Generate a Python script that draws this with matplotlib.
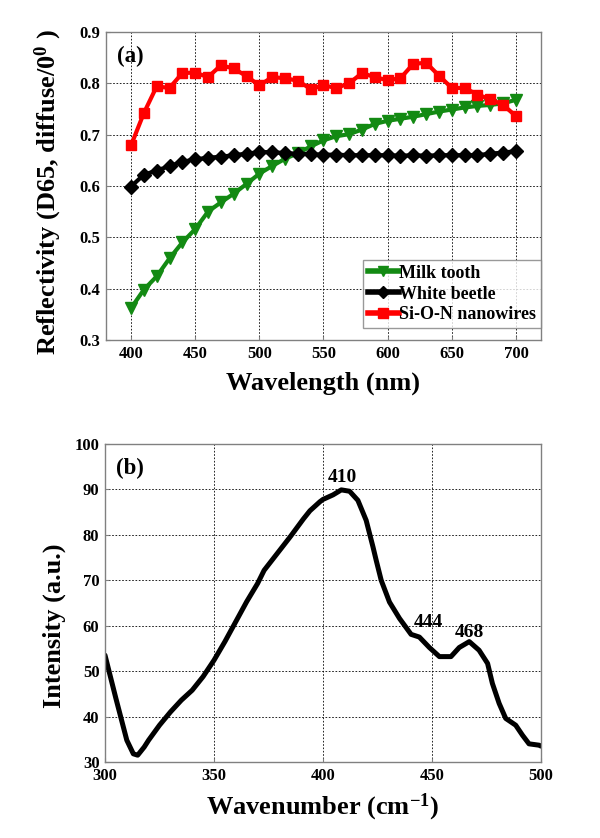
import matplotlib
matplotlib.use("Agg")
import matplotlib.pyplot as plt
import numpy as np

plt.rcParams['font.family'] = ['Liberation Serif', 'DejaVu Serif']
plt.rcParams['font.weight'] = 'bold'
plt.rcParams['mathtext.fontset'] = 'custom'
plt.rcParams['mathtext.rm'] = 'Liberation Serif'
plt.rcParams['mathtext.bf'] = 'Liberation Serif:bold'
plt.rcParams['mathtext.default'] = 'bf'

# ---- Panel (a) data ----
wavelength = list(range(400, 701, 10))
milk_tooth = [0.362, 0.398, 0.424, 0.459, 0.490, 0.516, 0.550, 0.568, 0.585, 0.604,
              0.624, 0.639, 0.653, 0.664, 0.677, 0.689, 0.697, 0.701, 0.710, 0.721,
              0.727, 0.731, 0.735, 0.740, 0.745, 0.749, 0.753, 0.756, 0.758, 0.761, 0.768]
white_beetle = [0.599, 0.622, 0.630, 0.639, 0.647, 0.652, 0.655, 0.657, 0.660, 0.663,
                0.666, 0.666, 0.664, 0.663, 0.662, 0.661, 0.661, 0.660, 0.660, 0.660,
                0.660, 0.659, 0.660, 0.659, 0.660, 0.660, 0.660, 0.660, 0.663, 0.665, 0.668]
sion_nanowires = [0.679, 0.742, 0.794, 0.791, 0.820, 0.821, 0.812, 0.835, 0.829, 0.814,
                  0.796, 0.812, 0.810, 0.805, 0.789, 0.796, 0.791, 0.800, 0.820, 0.812,
                  0.806, 0.810, 0.838, 0.840, 0.815, 0.791, 0.791, 0.778, 0.769, 0.758, 0.736]
series_labels = ["Milk tooth", "White beetle", "Si-O-N nanowires"]

# ---- Panel (b) data ----
wavenumber = [300, 305, 310, 313, 315, 318, 320, 325, 330, 335, 340, 345, 350, 355, 360,
              365, 370, 373, 379, 385, 391, 394, 398.6, 400, 404.6, 408.4, 412.2, 416,
              419.8, 422.9, 424.4, 426.7, 430.5, 435.1, 440.4, 444.2, 448.8, 453.4,
              458.7, 462.5, 467.1, 471.6, 475.5, 477.7, 480.8, 483.8, 488.4, 491.5,
              494.5, 499.1, 500]
intensity = [53.5, 44.0, 34.8, 31.8, 31.5, 33.3, 34.8, 38.1, 41.0, 43.6, 45.8, 48.8, 52.4,
             56.5, 60.9, 65.3, 69.3, 72.2, 75.9, 79.6, 83.5, 85.3, 87.3, 87.8, 88.8, 89.9,
             89.6, 87.6, 83.2, 77.4, 74.4, 70.0, 65.2, 61.6, 58.1, 57.5, 55.2, 53.2, 53.2,
             55.2, 56.5, 54.6, 51.7, 47.3, 42.9, 39.6, 38.1, 35.9, 34.0, 33.7, 33.5]
peak_labels = ["410", "444", "468"]
peak_label_x = [408.7, 448.4, 467.2]
peak_label_y = [91.6, 59.7, 57.5]

W, H = 600, 838
fig = plt.figure(figsize=(6, 8.38), dpi=100)

def ax_rect(l, t, r, b):
    return [l / W, 1 - b / H, (r - l) / W, (b - t) / H]

spine_col = '#808080'

def style_axes(ax):
    for s in ax.spines.values():
        s.set_color(spine_col)
        s.set_linewidth(1.0)
    ax.tick_params(direction='in', length=3, width=0.8, color=spine_col,
                   labelsize=12, pad=4, top=False, right=False)
    ax.grid(True, color='black', linestyle=(0, (2, 2)), linewidth=0.6)
    ax.set_axisbelow(True)
    for lab in ax.get_xticklabels() + ax.get_yticklabels():
        lab.set_fontweight('bold')

# Panel (a)
ax1 = fig.add_axes(ax_rect(106, 32, 541, 340))
ax1.plot(wavelength, milk_tooth, color='#138a13', marker='v', markersize=8, lw=3,
         label=series_labels[0])
ax1.plot(wavelength, white_beetle, color='black', marker='D', markersize=7, lw=3,
         label=series_labels[1])
ax1.plot(wavelength, sion_nanowires, color='#ff0000', marker='s', markersize=7.5, lw=3,
         label=series_labels[2])
ax1.set_xlim(380.5, 719.5)
ax1.set_ylim(0.3, 0.9)
ax1.set_xticks(range(400, 701, 50))
ax1.set_yticks(np.arange(0.3, 0.91, 0.1))
ax1.set_yticklabels([f"{v:.1f}" for v in np.arange(0.3, 0.91, 0.1)])
style_axes(ax1)
ax1.set_xlabel("Wavelength (nm)", fontsize=19, fontweight='bold', labelpad=7)
ax1.set_ylabel(r"Reflectivity (D65, diffuse/0$^{0}$ )", fontsize=19, fontweight='bold')
ax1.yaxis.set_label_coords(-0.097, 0.48)
ax1.text(0.025, 0.955, "(a)", transform=ax1.transAxes, fontsize=16.5, fontweight='bold',
         va='top', ha='left')
leg = ax1.legend(loc='lower right', bbox_to_anchor=(1.0, 0.039),
                 prop={'weight': 'bold', 'size': 13}, frameon=True,
                 fancybox=False, borderaxespad=0, handlelength=1.7, handletextpad=0.05,
                 borderpad=0.25, labelspacing=0.22, markerscale=0.9)
leg.get_frame().set_edgecolor(spine_col)
leg.get_frame().set_linewidth(1.0)
for line in leg.get_lines():
    line.set_linewidth(4)

# Panel (b)
ax2 = fig.add_axes(ax_rect(105, 444, 541, 762))
ax2.plot(wavenumber, intensity, color='black', lw=3.6, solid_capstyle='round',
         solid_joinstyle='round')
ax2.set_xlim(300, 500)
ax2.set_ylim(30, 100)
ax2.set_xticks(range(300, 501, 50))
ax2.set_yticks(range(30, 101, 10))
style_axes(ax2)
ax2.set_xlabel(r"Wavenumber (cm$^{-1}$)", fontsize=19, fontweight='bold', labelpad=6)
ax2.set_ylabel("Intensity (a.u.)", fontsize=19, fontweight='bold')
ax2.yaxis.set_label_coords(-0.09, 0.43)
ax2.text(0.025, 0.955, "(b)", transform=ax2.transAxes, fontsize=16.5, fontweight='bold',
         va='top', ha='left')
for lab, tx, ty in zip(peak_labels, peak_label_x, peak_label_y):
    ax2.text(tx, ty, lab, fontsize=14, fontweight='bold', ha='center', va='baseline')

fig.savefig("out.png", dpi=100)
